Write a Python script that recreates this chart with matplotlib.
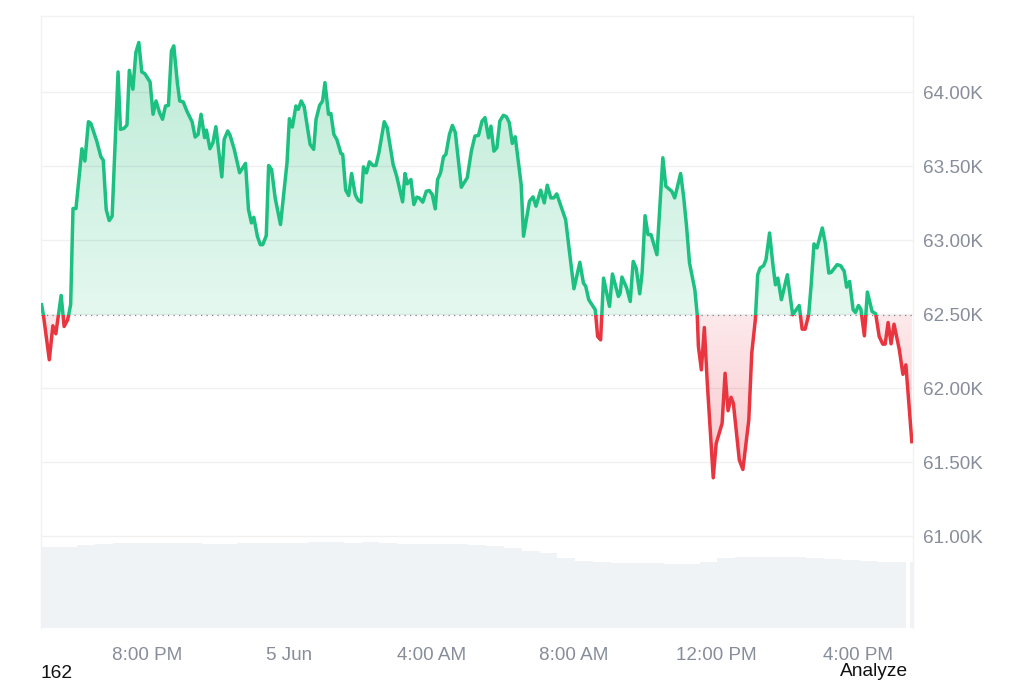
import numpy as np
import matplotlib
matplotlib.use("Agg")
import matplotlib.pyplot as plt
from matplotlib.colors import LinearSegmentedColormap
from matplotlib.patches import PathPatch, Rectangle
from matplotlib.path import Path

plt.rcParams['font.family'] = ['Liberation Sans', 'DejaVu Sans']

# === Price trace: minutes since the first reading, price in USD ===
minutes = [0, 3, 13, 19, 24, 33, 38, 44, 49, 53, 58, 68, 73, 79, 83, 93, 100, 104, 109, 114,
           119, 129, 133, 139, 144, 148, 154, 159, 164, 169, 174, 183, 188, 193, 199, 204, 209, 214, 219, 223,
           229, 233, 239, 245, 254, 259, 264, 269, 275, 278, 284, 289, 294, 304, 308, 314, 318, 325, 334, 344,
           349, 354, 358, 364, 369, 373, 379, 383, 388, 394, 403, 414, 418, 423, 429, 433, 438, 443, 453, 459,
           463, 469, 474, 478, 484, 488, 493, 498, 505, 508, 513, 518, 523, 529, 534, 539, 543, 548, 553, 559,
           564, 569, 578, 583, 593, 599, 609, 613, 617, 623, 628, 633, 637, 643, 649, 654, 659, 664, 668, 673,
           678, 682, 688, 693, 698, 708, 718, 725, 731, 737, 743, 748, 754, 758, 763, 768, 773, 779, 784, 789,
           794, 799, 809, 813, 823, 829, 834, 842, 848, 853, 859, 864, 869, 884, 898, 908, 914, 918, 923, 934,
           938, 943, 948, 958, 963, 973, 976, 979, 987, 993, 998, 1003, 1009, 1013, 1018, 1023, 1028, 1038, 1048, 1053,
           1063, 1068, 1078, 1083, 1088, 1093, 1102, 1106, 1108, 1113, 1118, 1123, 1133, 1138, 1148, 1153, 1158, 1163, 1167, 1177,
           1183, 1193, 1198, 1204, 1208, 1212, 1218, 1222, 1228, 1234, 1238, 1242, 1248, 1258, 1267, 1278, 1283, 1288, 1294, 1298,
           1303, 1308, 1317, 1322, 1328, 1332, 1342, 1348, 1354, 1358, 1363, 1369, 1373, 1378, 1382, 1388, 1393, 1401, 1407, 1413,
           1419, 1423, 1428, 1433, 1438, 1447, 1453, 1458, 1468]
prices = [62564, 62497, 62192, 62422, 62368, 62627, 62417, 62463, 62564, 63214, 63214, 63618, 63535, 63801, 63790, 63670, 63564, 63541, 63207, 63133,
          63162, 64137, 63749, 63756, 63778, 64148, 64020, 64268, 64336, 64137, 64126, 64069, 63851, 63941, 63862, 63817, 63907, 63911, 64279, 64313,
          64065, 63941, 63934, 63873, 63799, 63697, 63715, 63851, 63693, 63744, 63618, 63659, 63767, 63428, 63681, 63738, 63708, 63614, 63456, 63519,
          63207, 63117, 63155, 63027, 62970, 62970, 63031, 63505, 63478, 63286, 63106, 63523, 63821, 63765, 63907, 63884, 63941, 63902, 63647, 63614,
          63817, 63911, 63941, 64065, 63851, 63857, 63715, 63681, 63586, 63580, 63338, 63302, 63451, 63309, 63270, 63257, 63496, 63455, 63530, 63505,
          63505, 63591, 63801, 63760, 63512, 63433, 63259, 63451, 63381, 63410, 63241, 63291, 63286, 63257, 63331, 63336, 63309, 63212, 63410, 63455,
          63564, 63580, 63715, 63776, 63726, 63358, 63422, 63602, 63704, 63708, 63805, 63828, 63692, 63771, 63602, 63625, 63805, 63844, 63835, 63794,
          63654, 63699, 63376, 63027, 63264, 63293, 63230, 63338, 63252, 63372, 63286, 63286, 63313, 63139, 62672, 62851, 62711, 62688, 62598, 62530,
          62350, 62327, 62744, 62553, 62772, 62620, 62643, 62751, 62677, 62586, 62857, 62812, 62638, 62778, 63166, 63038, 63038, 62902, 63557, 63365,
          63331, 63286, 63451, 63297, 63094, 62846, 62665, 62496, 62282, 62124, 62410, 62034, 61395, 61627, 61763, 62101, 61848, 61939, 61898, 61515,
          61451, 61785, 62237, 62462, 62767, 62812, 62828, 62869, 63049, 62823, 62699, 62744, 62598, 62767, 62496, 62559, 62399, 62399, 62496, 62688,
          62975, 62948, 63083, 62981, 62778, 62783, 62835, 62828, 62790, 62683, 62722, 62530, 62512, 62559, 62535, 62354, 62650, 62519, 62503, 62350,
          62298, 62298, 62444, 62300, 62433, 62259, 62094, 62158, 61639]
open_price = 62496

# Volume in 30 minute blocks (relative height, no axis in the chart)
volume = [81, 81, 83, 84, 85, 85, 85, 85, 85, 84, 84, 85, 85, 85, 85, 86, 86, 85, 86, 85,
          84, 84, 84, 84, 83, 82, 80, 77, 75, 70, 67, 66, 65, 65, 65, 64, 64, 66, 70, 71,
          71, 71, 71, 70, 69, 68, 67, 66, 66]
last_volume = 66

y_ticks = [61000, 61500, 62000, 62500, 63000, 63500, 64000]
y_labels = ["61.00K", "61.50K", "62.00K", "62.50K", "63.00K", "63.50K", "64.00K"]
x_ticks = [178, 418, 658, 898, 1138, 1378]
x_labels = ["8:00 PM", "5 Jun", "4:00 AM", "8:00 AM", "12:00 PM", "4:00 PM"]

minutes = np.array(minutes)
prices = np.array(prices)

GREEN = "#1cc081"
RED = "#e8353f"
GRID = "#f0f2f4"
LABEL = "#878d9a"
VOL = "#f0f3f6"

fig = plt.figure(figsize=(10.24, 6.83), dpi=100)
ax = fig.add_axes([41 / 1024, 1 - 628 / 683, 872 / 1024, 612 / 683])
ax_vol = ax.twinx()
ax.set_zorder(ax_vol.get_zorder() + 1)
ax.patch.set_visible(False)

x_min, x_max = -1, 1470
y_min, y_max = 60380, 64515
ax.set_xlim(x_min, x_max)
ax.set_ylim(y_min, y_max)

# Volume bars
centers = 15 + 30 * np.arange(len(volume) - 1)
ax_vol.bar(centers, volume[:-1], width=30, color=VOL, linewidth=0)
ax_vol.bar(1449, volume[-1], width=20, color=VOL, linewidth=0)
ax_vol.bar(1467, last_volume, width=5, color=VOL, linewidth=0)
ax_vol.set_ylim(0, 612)
ax_vol.set_yticks([])
ax_vol.set_xlim(x_min, x_max)
for s in ax_vol.spines.values():
    s.set_visible(False)


# Gradient area between the line and the open price
def gradient_fill(mask, c_top, c_bottom, top, bottom):
    poly = ax.fill_between(minutes, prices, open_price, where=mask, interpolate=True, alpha=0)
    path = Path.make_compound_path(*poly.get_paths())
    cmap = LinearSegmentedColormap.from_list("g", [c_bottom, c_top])
    im = ax.imshow(np.linspace(1, 0, 256).reshape(-1, 1), cmap=cmap, aspect="auto",
                   extent=[x_min, x_max, bottom, top], zorder=1, interpolation="bilinear")
    im.set_clip_path(PathPatch(path, transform=ax.transData))


gradient_fill(prices >= open_price, "#bdebd7", "#e5f8f0", 64340, open_price)
gradient_fill(prices <= open_price, "#fde9eb", "#f8c8cd", open_price, 61390)
ax.set_xlim(x_min, x_max)
ax.set_ylim(y_min, y_max)

# Grid and open price
for t in y_ticks:
    ax.axhline(t, color="black", alpha=0.06, lw=1, zorder=2)
ax.axhline(open_price, color="#7f8591", lw=0.9, ls=(0, (1, 3.4)), zorder=3)

# Same line twice, each one clipped to its side of the open price
for color, low, high in [(GREEN, open_price, y_max), (RED, y_min, open_price)]:
    line, = ax.plot(minutes, prices, color=color, lw=2.5, zorder=4, solid_joinstyle="round")
    line.set_clip_path(Rectangle((x_min, low), x_max - x_min, high - low, transform=ax.transData))

ax.yaxis.tick_right()
ax.set_yticks(y_ticks, y_labels)
ax.set_xticks(x_ticks, x_labels)
ax.tick_params(axis="both", length=0, labelsize=13.6, labelcolor=LABEL)
ax.tick_params(axis="y", pad=7)
ax.tick_params(axis="x", pad=13.5)
for name, s in ax.spines.items():
    s.set_color(GRID)
    s.set_linewidth(1)
ax.spines["bottom"].set_visible(False)

fig.text(41 / 1024, 1 - 682 / 683, "162", fontsize=13.8, color="#111111", va="bottom", ha="left")
fig.text(874 / 1024, 1 - 672 / 683, "Analyze", fontsize=13.8, color="#111111", va="center", ha="center")

fig.savefig("out.png", dpi=100)
